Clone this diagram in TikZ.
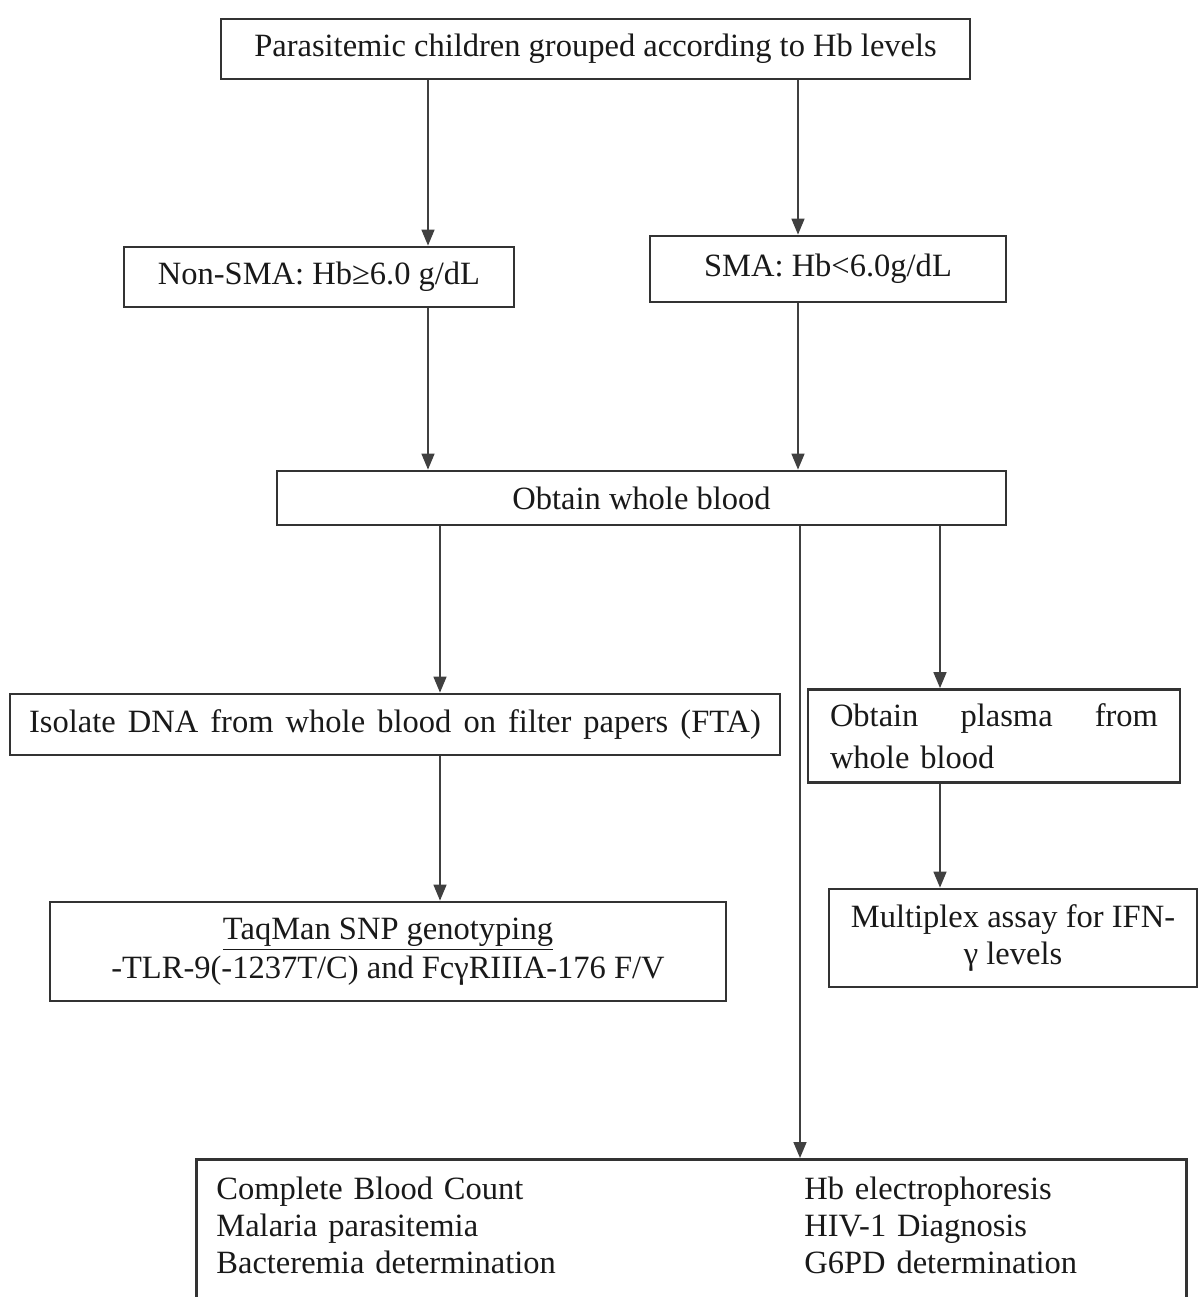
\documentclass[tikz,border=0pt]{standalone}
\usepackage{fontspec}
\setmainfont{Liberation Serif}
\usetikzlibrary{arrows.meta}

\tikzset{
  flowbox/.style={draw=black!80, line width=1.6pt, inner sep=0pt, text=black!90,
    font=\fontsize{18.5}{21}\selectfont},
  flowarrow/.style={draw=black!75, line width=0.9pt, -{Triangle[length=0.32cm,width=0.26cm]}}
}

\begin{document}
\begin{tikzpicture}
   \useasboundingbox (0,0) rectangle (23.98,-25.94);
   % boxes
   \node[flowbox, minimum width=14.98cm, minimum height=1.2cm] (top) at (11.91,-0.98) {Parasitemic children grouped according to Hb levels};
   \node[flowbox, minimum width=7.8cm,  minimum height=1.2cm]  (nonsma) at (6.38,-5.54) {Non-SMA: Hb≥6.0 g/dL};
   \node[flowbox, minimum width=7.12cm, minimum height=1.32cm] (sma) at (16.56,-5.38) {SMA: Hb<6.0g/dL};
   \node[flowbox, minimum width=14.58cm, minimum height=1.08cm] (blood) at (12.83,-9.96) {Obtain whole blood};
   \node[flowbox, minimum width=15.4cm, minimum height=1.22cm] (dna) at (7.9,-14.49) {\spaceskip=6.9pt\relax Isolate DNA from whole blood on filter papers (FTA)};
   \node[flowbox, minimum width=7.44cm, minimum height=1.86cm, text width=6.56cm, align=left,
         font=\fontsize{18.5}{24}\selectfont] (plasma) at (19.88,-14.72) {Obtain\hfill plasma\hfill from\\whole blood};
   \node[flowbox, minimum width=13.52cm, minimum height=1.98cm, align=center,
         font=\fontsize{18.5}{22}\selectfont] (taqman) at (7.76,-19.03) {\underline{TaqMan SNP genotyping}\\-TLR-9(-1237T/C) and FcγRIIIA-176 F/V};
   \node[flowbox, minimum width=7.36cm, minimum height=1.96cm, align=center,
         font=\fontsize{18.5}{21}\selectfont] (multiplex) at (20.26,-18.76) {Multiplex assay for IFN-\\γ levels};
   \node[flowbox, anchor=north west, text width=19.0cm, align=left, inner xsep=0.4cm, inner ysep=0.28cm,
         text depth=2.6cm] (tests) at (3.9,-23.16) {%
     \begin{tabular}[t]{@{}p{11.76cm}@{}l@{}}
       Complete Blood Count & Hb electrophoresis\\
       Malaria parasitemia & HIV-1 Diagnosis\\
       Bacteremia determination & G6PD determination
     \end{tabular}};
   % connectors
   \coordinate (xa) at (8.56,0);
   \coordinate (xb) at (15.96,0);
   \coordinate (xc) at (8.8,0);
   \coordinate (xd) at (16.0,0);
   \coordinate (xe) at (18.8,0);
   \draw[flowarrow] (top.south -| xa) -- (nonsma.north -| xa);
   \draw[flowarrow] (top.south -| xb) -- (sma.north -| xb);
   \draw[flowarrow] (nonsma.south -| xa) -- (blood.north -| xa);
   \draw[flowarrow] (sma.south -| xb) -- (blood.north -| xb);
   \draw[flowarrow] (blood.south -| xc) -- (dna.north -| xc);
   \draw[flowarrow] (blood.south -| xd) -- (tests.north -| xd);
   \draw[flowarrow] (blood.south -| xe) -- (plasma.north -| xe);
   \draw[flowarrow] (dna.south -| xc) -- (taqman.north -| xc);
   \draw[flowarrow] (plasma.south -| xe) -- (multiplex.north -| xe);
\end{tikzpicture}
\end{document}
